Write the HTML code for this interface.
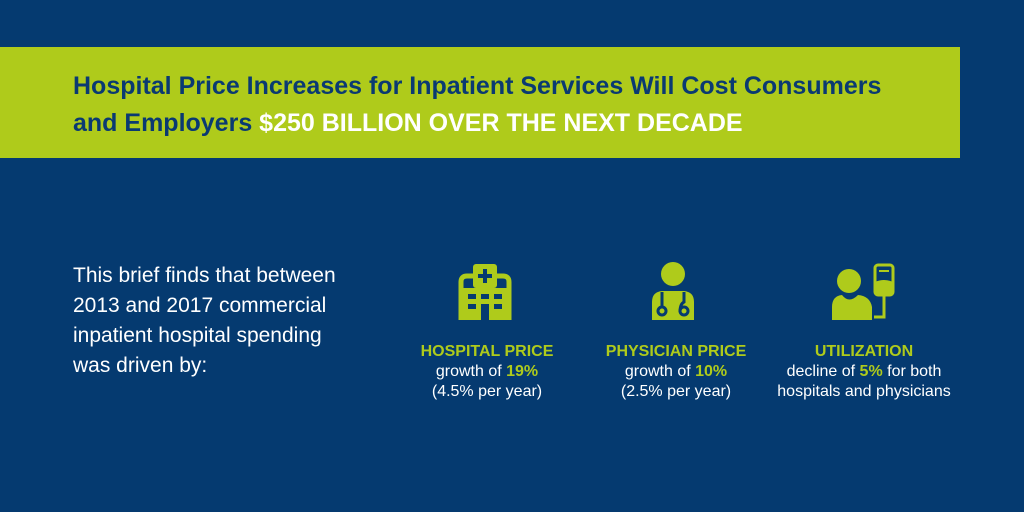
<!DOCTYPE html>
<html><head><style>
body{margin:0;width:1024px;height:512px;background:#053a70;font-family:"Liberation Sans",sans-serif;overflow:hidden;position:relative}
.banner{position:absolute;left:0;top:47px;width:960px;height:111px;background:#afcb1b}
.banner div{position:absolute;left:73px;top:21px;font-size:25px;font-weight:bold;color:#0a3a72;line-height:37px;white-space:nowrap}
.banner b{color:#fff}
.left{position:absolute;left:73px;top:261px;color:#fff;font-size:21px;line-height:30px}
.col{position:absolute;top:342px;width:220px;text-align:center;color:#fff;font-size:16px;line-height:20px}
.col .h{color:#afcb1b;font-weight:bold;font-size:16px}
.g{color:#afcb1b;font-weight:bold}
svg{position:absolute}
</style></head><body>
<div class="banner"><div>Hospital Price Increases for Inpatient Services Will Cost Consumers<br>and Employers <b>$250 BILLION OVER THE NEXT DECADE</b></div></div>
<div class="left">This brief finds that between<br>2013 and 2017 commercial<br>inpatient hospital spending<br>was driven by:</div>

<svg style="left:455px;top:262px" width="60" height="60" viewBox="0 0 60 60">
<path d="M6 58 V20 Q6 14 12 14 H18 M42 14 H48 Q54 14 54 20 V58" fill="none" stroke="#afcb1b" stroke-width="5"/>
<rect x="18" y="2" width="24" height="24" rx="3" fill="#afcb1b"/>
<path d="M30 7 V21 M23 14 H37" stroke="#053a70" stroke-width="4"/>
<rect x="6" y="26" width="48" height="32" fill="#afcb1b"/>
<g fill="#053a70"><rect x="13" y="32" width="8" height="5"/><rect x="26" y="32" width="8" height="5"/><rect x="39" y="32" width="8" height="5"/><rect x="13" y="42" width="8" height="5"/><rect x="39" y="42" width="8" height="5"/><rect x="26" y="42" width="8" height="16"/></g>
</svg>

<svg style="left:650px;top:262px" width="46" height="60" viewBox="0 0 46 60">
<circle cx="23" cy="12" r="12" fill="#afcb1b"/>
<path d="M2 58 V40 Q2 30 12 29 H34 Q44 30 44 40 V58 Z" fill="#afcb1b"/>
<path d="M12 30 V46 M34 30 V40 Q30 42 30 50" fill="none" stroke="#053a70" stroke-width="3"/>
<circle cx="12" cy="49" r="4" fill="none" stroke="#053a70" stroke-width="3"/>
<circle cx="34" cy="49" r="4" fill="none" stroke="#053a70" stroke-width="3"/>
</svg>

<svg style="left:832px;top:262px" width="66" height="60" viewBox="0 0 66 60">
<circle cx="17" cy="19" r="12" fill="#afcb1b"/>
<path d="M0 58 V45 Q0 34 10 33 Q17 42 26 33 Q38 34 40 45 V58 Z" fill="#afcb1b"/>
<rect x="43" y="3" width="18" height="30" rx="3" fill="none" stroke="#afcb1b" stroke-width="3"/>
<path d="M43 20 Q52 16 61 20 V30 Q61 33 58 33 H46 Q43 33 43 30 Z" fill="#afcb1b"/>
<path d="M47 9 H57" stroke="#afcb1b" stroke-width="2"/>
<path d="M52 33 V55 H42" fill="none" stroke="#afcb1b" stroke-width="3"/>
</svg>

<div class="col" style="left:377px"><span class="h">HOSPITAL PRICE</span><br>growth of <span class="g">19%</span><br>(4.5% per year)</div>
<div class="col" style="left:566px"><span class="h">PHYSICIAN PRICE</span><br>growth of <span class="g">10%</span><br>(2.5% per year)</div>
<div class="col" style="left:754px"><span class="h">UTILIZATION</span><br>decline of <span class="g">5%</span> for both<br>hospitals and physicians</div>
</body></html>
